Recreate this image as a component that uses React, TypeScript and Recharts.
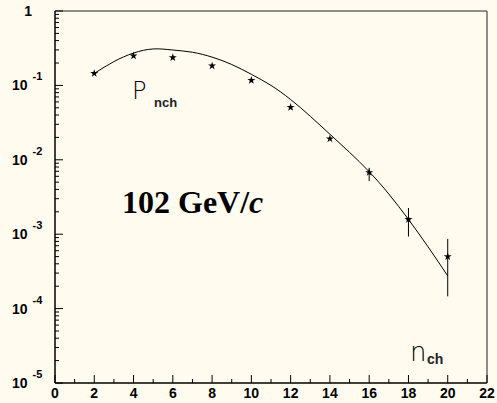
import React from "react";
import {
  ComposedChart,
  Line,
  Scatter,
  XAxis,
  YAxis,
  ZAxis,
  ErrorBar,
  ReferenceLine,
} from "recharts";

// measured multiplicity points (stars)
const pointN = [2, 4, 6, 8, 10, 12, 14, 16, 18, 20];
const pointP = [0.145, 0.25, 0.237, 0.183, 0.117, 0.0508, 0.0192, 0.00676, 0.00158, 0.0005];
const errLow = [0, 0, 0, 0, 0, 0, 0, 0.0016, 0.00065, 0.000354];
const errHigh = [0, 0, 0, 0, 0, 0, 0, 0.00104, 0.00067, 0.000365];

// fitted curve
const fitN = [2, 3, 4, 5, 6, 7, 8, 9, 10, 11, 12, 13, 14, 15, 16, 17, 18, 19, 20];
const fitP = [
  0.145, 0.209, 0.272, 0.309, 0.299, 0.279, 0.24, 0.191, 0.141, 0.1, 0.0646, 0.0385,
  0.0221, 0.0126, 0.00692, 0.00347, 0.00158, 0.000676, 0.000275,
];

const yDecades = [1e-5, 1e-4, 1e-3, 1e-2, 1e-1, 1];
const yMinorFactors = [2, 3, 4, 5, 6, 7, 8, 9];
const xTicks = [0, 1, 2, 3, 4, 5, 6, 7, 8, 9, 10, 11, 12, 13, 14, 15, 16, 17, 18, 19, 20, 21, 22];

const points = pointN.map((n, i) => ({ n, p: pointP[i], err: [errLow[i], errHigh[i]] }));
const fitData = fitN.map((n, i) => ({ n, fit: fitP[i] }));
const yTicks = yDecades.concat(
  yDecades.slice(0, -1).flatMap((d) => yMinorFactors.map((f) => d * f))
);

const BG = "#fffbef";
const labelFont = "'Liberation Sans', Arial, sans-serif";

function YTick(props: any) {
  const { x, y, payload } = props;
  const lg = Math.log10(payload.value);
  const e = Math.round(lg);
  const major = Math.abs(lg - e) < 1e-6;
  return (
    <g>
      <line x1={x} x2={x + (major ? 8 : 4)} y1={y} y2={y} stroke="#000" strokeWidth={1} />
      {major &&
        (e === 0 ? (
          <text
            x={x - 23}
            y={y + 5}
            textAnchor="end"
            fontFamily={labelFont}
            fontWeight="bold"
            fontSize={14}
            fill="#000"
          >
            1
          </text>
        ) : (
          <text x={x - 43} y={y + 5} fontFamily={labelFont} fontWeight="bold" fontSize={14} fill="#000">
            10
            <tspan dx={5} dy={-10} fontSize={11}>
              {e}
            </tspan>
          </text>
        ))}
    </g>
  );
}

function XTick(props: any) {
  const { x, y, payload } = props;
  const major = payload.value % 2 === 0;
  return (
    <g>
      <line x1={x} x2={x} y1={y} y2={y - (major ? 8 : 4)} stroke="#000" strokeWidth={1} />
      {major && (
        <text
          x={x}
          y={y + 15}
          textAnchor="middle"
          fontFamily={labelFont}
          fontWeight="bold"
          fontSize={14}
          fill="#000"
        >
          {payload.value}
        </text>
      )}
    </g>
  );
}

export default function App() {
  return (
    <div style={{ position: "absolute", left: 0, top: 0, width: 497, height: 403, background: BG }}>
      <ComposedChart
        width={497}
        height={403}
        data={fitData}
        margin={{ top: 11, right: 10, left: 0, bottom: 0 }}
      >
        <XAxis
          dataKey="n"
          type="number"
          domain={[0, 22]}
          ticks={xTicks}
          interval={0}
          height={20}
          tickSize={0}
          tickMargin={0}
          tickLine={false}
          tick={<XTick />}
          axisLine={{ stroke: "#000", strokeWidth: 1.5 }}
        />
        <YAxis
          type="number"
          scale="log"
          domain={[1e-5, 1]}
          allowDataOverflow
          ticks={yTicks}
          interval={0}
          width={55}
          tickSize={0}
          tickMargin={0}
          tickLine={false}
          tick={<YTick />}
          axisLine={{ stroke: "#000", strokeWidth: 1.5 }}
        />
        <ZAxis range={[20, 20]} />
        <ReferenceLine y={1} stroke="#222" strokeWidth={1} />
        <ReferenceLine x={22} stroke="#444" strokeWidth={1.2} />
        <Line
          dataKey="fit"
          type="natural"
          stroke="#000"
          strokeWidth={1}
          dot={false}
          isAnimationActive={false}
        />
        <Scatter data={points} dataKey="p" shape="star" fill="#000" isAnimationActive={false}>
          <ErrorBar dataKey="err" direction="y" width={0} stroke="#000" strokeWidth={1} />
        </Scatter>
      </ComposedChart>
      <svg
        width={497}
        height={403}
        style={{ position: "absolute", left: 0, top: 0, pointerEvents: "none" }}
      >
        <text x={132} y={99} fontFamily="'DejaVu Sans', sans-serif" fontWeight={200} fontSize={24} fill="#000">
          P
        </text>
        <text x={154} y={107} fontFamily={labelFont} fontWeight="bold" fontSize={13} fill="#222">
          nch
        </text>
        <text
          x={122}
          y={213}
          fontFamily="'Liberation Serif', 'Times New Roman', serif"
          fontWeight="bold"
          fontSize={32}
          fill="#000"
        >
          102 GeV/<tspan fontStyle="italic">c</tspan>
        </text>
        <text x={410} y={361} fontFamily="'DejaVu Sans', sans-serif" fontWeight={200} fontSize={26} fill="#000">
          n
        </text>
        <text x={427} y={364} fontFamily={labelFont} fontWeight="bold" fontSize={14} fill="#222">
          ch
        </text>
      </svg>
    </div>
  );
}
